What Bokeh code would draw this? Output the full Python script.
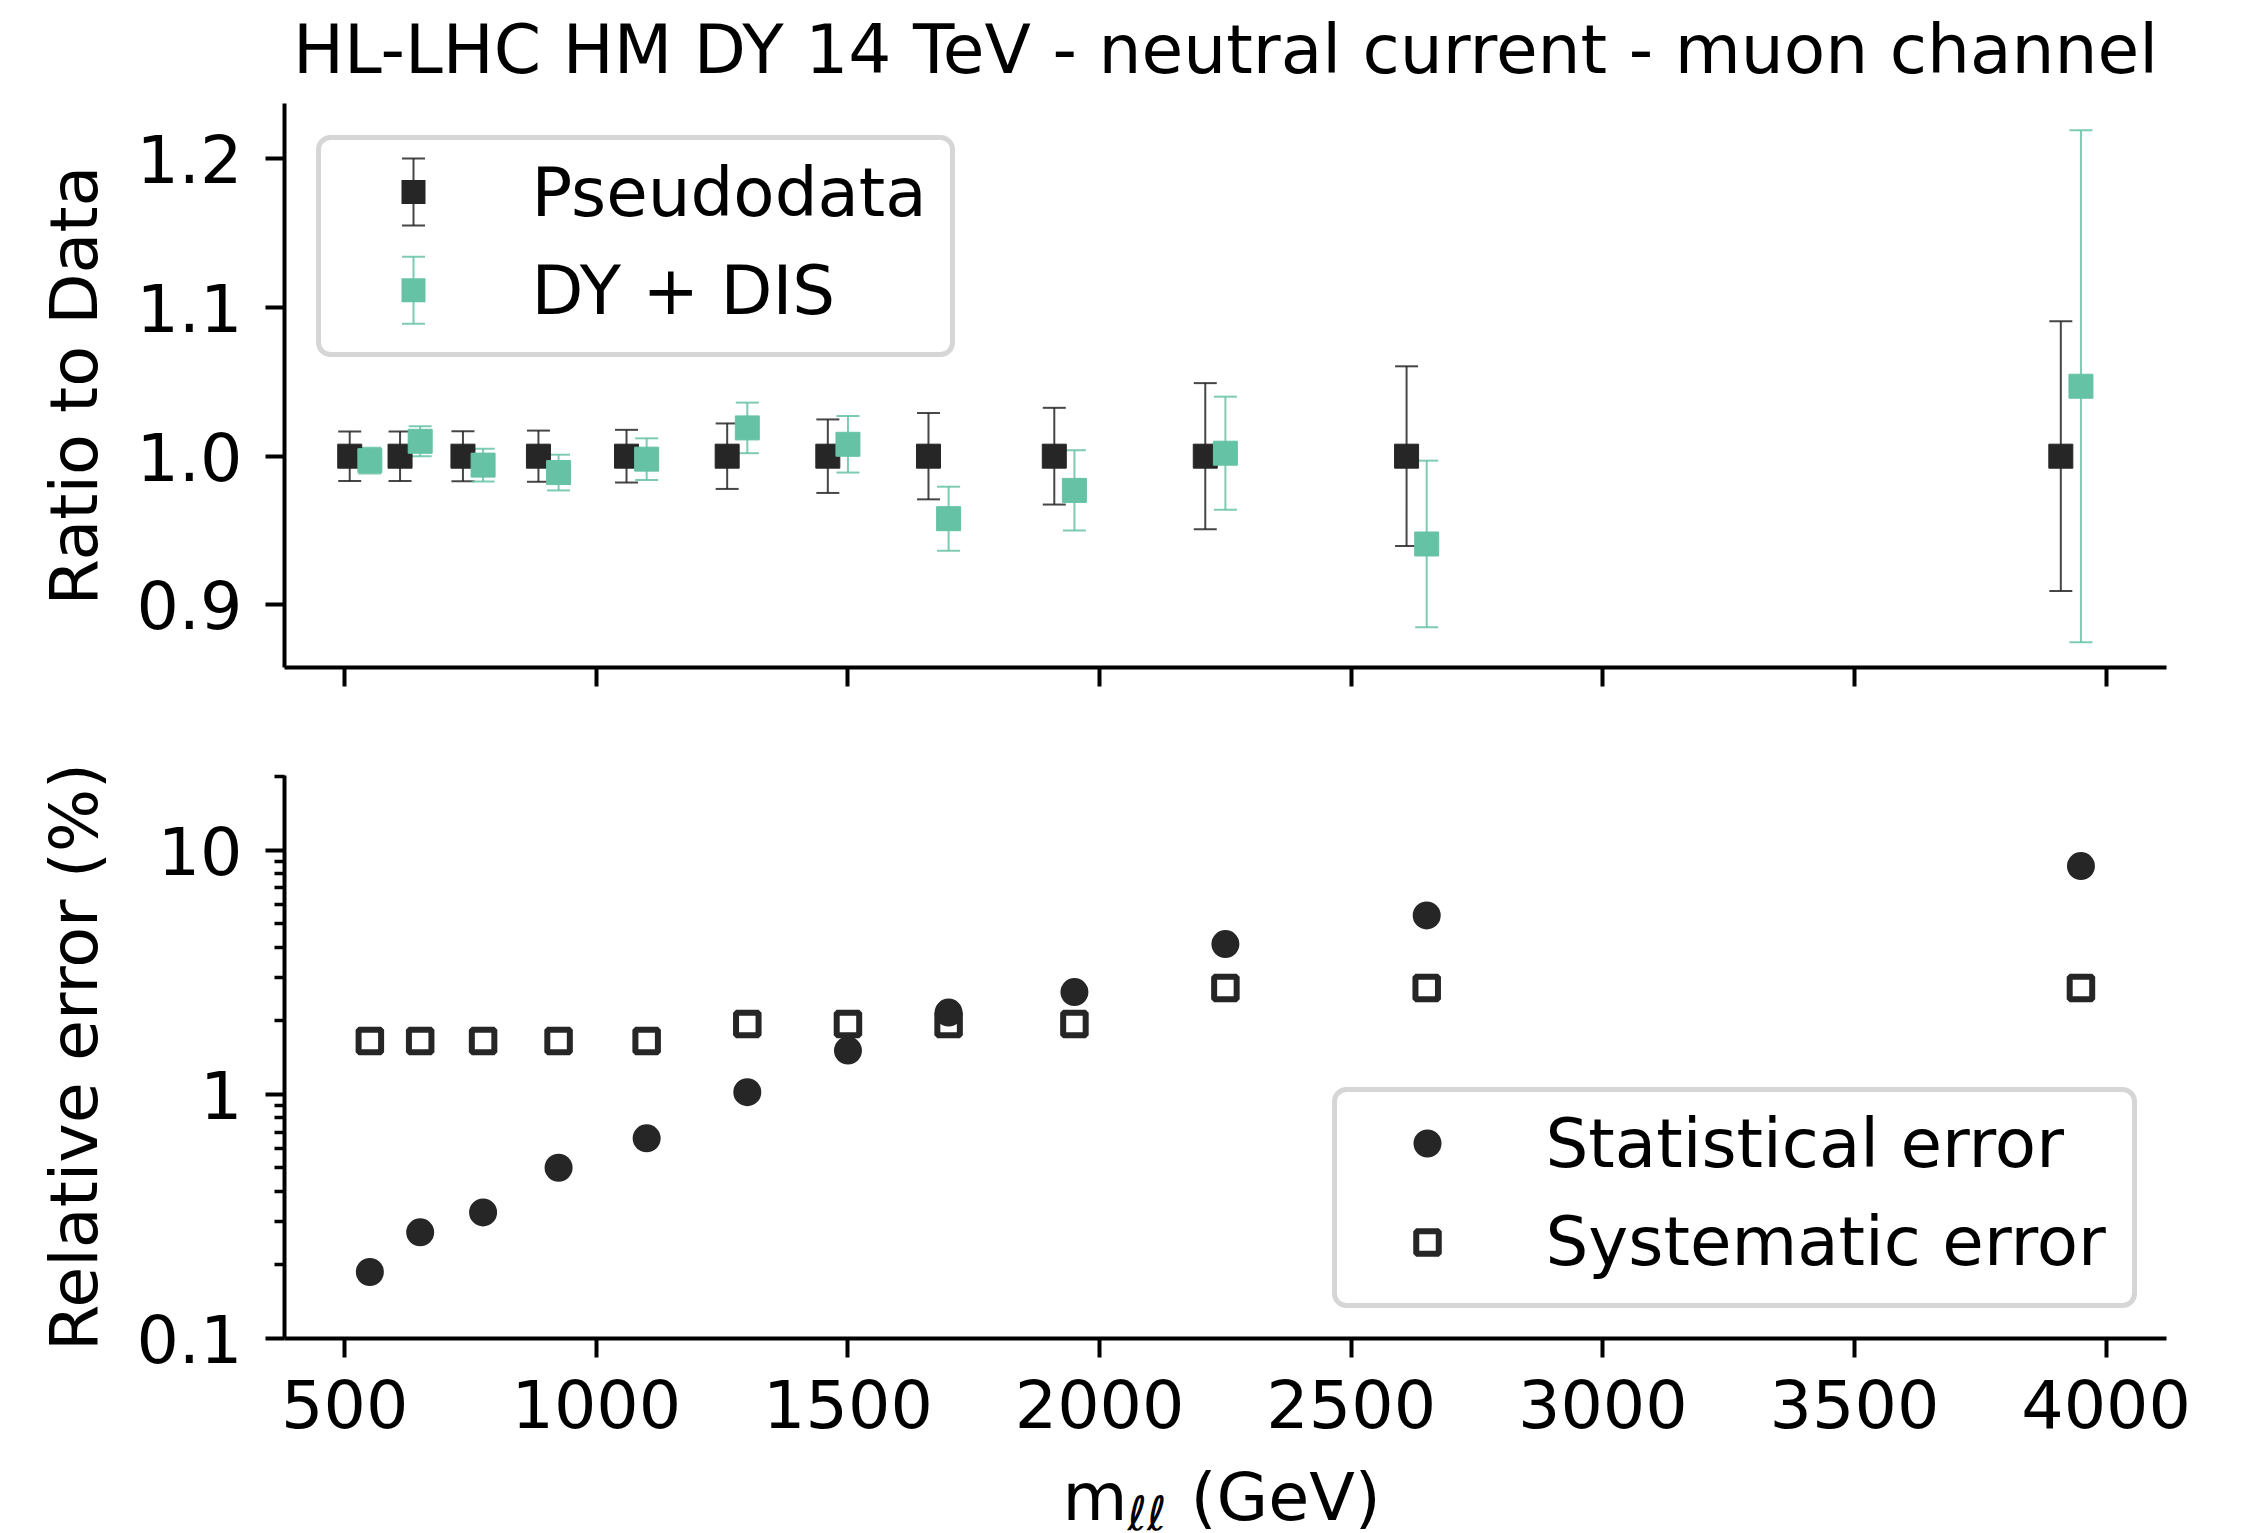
import numpy as np
from bokeh.plotting import figure
from bokeh.layouts import column
from bokeh.models import (ColumnDataSource, Range1d, FixedTicker, PrintfTickFormatter,
                          CustomJSTickFormatter, Whisker, TeeHead, Label, BoxAnnotation)
from bokeh.embed import file_html
from bokeh.resources import INLINE

# ---- data -----------------------------------------------------------------
# invariant-mass bins (GeV)
mll = [550, 650, 775, 925, 1100, 1300, 1500, 1700, 1950, 2250, 2650, 3950]

# ratio panel
pseudodata_ratio = [1.0, 1.0, 1.0, 1.0, 1.0, 1.0, 1.0, 1.0, 1.0, 1.0, 1.0, 1.0]
pseudodata_err = [0.0166, 0.0166, 0.0168, 0.0172, 0.0177, 0.0220,
                  0.0247, 0.0290, 0.0325, 0.0491, 0.0604, 0.0906]
dy_dis_ratio = [0.997, 1.010, 0.994, 0.989, 0.998, 1.019,
                1.008, 0.958, 0.977, 1.002, 0.941, 1.047]
dy_dis_err = [0.0086, 0.0101, 0.011, 0.012, 0.014, 0.017,
              0.019, 0.0215, 0.027, 0.038, 0.056, 0.172]

# relative-error panel (%)
stat_err = [0.187, 0.272, 0.328, 0.50, 0.66, 1.02, 1.51, 2.16, 2.62, 4.12, 5.4, 8.6]
sys_err = [1.65, 1.65, 1.65, 1.65, 1.65, 1.94, 1.94, 1.94, 1.94, 2.72, 2.72, 2.72]

x_ticks = [500, 1000, 1500, 2000, 2500, 3000, 3500, 4000]
ratio_ticks = [0.9, 1.0, 1.1, 1.2]
relerr_ticks = [0.1, 1, 10]
relerr_minor = [0.2, 0.3, 0.4, 0.5, 0.6, 0.7, 0.8, 0.9, 2, 3, 4, 5, 6, 7, 8, 9, 20]

title_text = "HL-LHC HM DY 14 TeV - neutral current - muon channel"

# ---- style ----------------------------------------------------------------
FONT = "DejaVu Sans"
FS = "66.7px"
FS_TXT = "67.5px"
INK = "#262626"
GREEN = "#66c2a5"
SHIFT = 40  # pseudodata drawn slightly to the left of each bin

W = 2249
X0, X1 = 380.4, 4120.0
LBL_DY = 23  # label anchor correction (px) for the alphabetic baseline


def style_axes(p):
    p.outline_line_color = None
    p.xgrid.visible = False
    p.ygrid.visible = False
    p.background_fill_color = "white"
    p.border_fill_color = "white"
    for ax in (p.xaxis[0], p.yaxis[0]):
        ax.axis_line_color = "black"
        ax.axis_line_width = 4
        ax.major_tick_line_color = "black"
        ax.major_tick_line_width = 4
        ax.major_tick_out = 19
        ax.major_tick_in = 0
        ax.minor_tick_line_color = None
        ax.major_label_text_font = FONT
        ax.major_label_text_font_size = FS
        ax.major_label_text_color = "black"
        ax.axis_label_text_font = FONT
        ax.axis_label_text_font_size = FS
        ax.axis_label_text_font_style = "normal"
        ax.axis_label_text_color = "black"
    p.yaxis[0].major_label_standoff = 23
    p.yaxis[0].axis_label_standoff = 20


def strip(height):
    s = figure(width=W, height=height, output_backend="svg", toolbar_location=None,
               x_range=Range1d(0, 1), y_range=Range1d(0, 1),
               x_axis_location=None, y_axis_location=None, min_border=0)
    s.outline_line_color = None
    s.grid.visible = False
    s.background_fill_color = "white"
    s.border_fill_color = "white"
    return s


def errorbars(p, x, lo, hi, color, units="data", level="underlay"):
    src = ColumnDataSource(dict(x=x, lo=lo, hi=hi))
    kw = dict(line_color=color, line_width=2, line_alpha=0.85)
    w = Whisker(source=src, base="x", lower="lo", upper="hi", dimension="height",
                upper_head=TeeHead(size=23, **kw), lower_head=TeeHead(size=23, **kw),
                level=level, **kw)
    if units == "screen":
        w.base_units = "screen"
        w.lower_units = "screen"
        w.upper_units = "screen"
    p.add_layout(w)


def box(p, l, r, b, t, **kw):
    p.add_layout(BoxAnnotation(left=l, right=r, bottom=b, top=t,
                               left_units="screen", right_units="screen",
                               bottom_units="screen", top_units="screen", **kw))


def text(p, x, y, s, size=FS_TXT, style="normal", dy=LBL_DY, align="left"):
    p.add_layout(Label(x=x, y=y + dy, x_units="screen", y_units="screen", text=s,
                       text_font=FONT, text_font_size=size, text_font_style=style,
                       text_color="black", text_align=align, text_baseline="alphabetic"))


# ---- title strip ----------------------------------------------------------
head = strip(95)
text(head, 941, 23, title_text, size="67.8px", align="center")

# ---- ratio panel ----------------------------------------------------------
top = figure(width=W, height=625, output_backend="svg", toolbar_location=None,
             x_range=Range1d(X0, X1), y_range=Range1d(0.858, 1.237),
             min_border_left=284, min_border_right=83, min_border_top=8,
             min_border_bottom=53)
style_axes(top)
top.xaxis.ticker = FixedTicker(ticks=x_ticks)
top.xaxis.formatter = CustomJSTickFormatter(code="return ''")
top.yaxis.ticker = FixedTicker(ticks=ratio_ticks)
top.yaxis.formatter = PrintfTickFormatter(format="%.1f")
top.yaxis.axis_label = "Ratio to Data"

x_arr = np.array(mll, dtype=float)
pr = np.array(pseudodata_ratio)
pe = np.array(pseudodata_err)
dr = np.array(dy_dis_ratio)
de = np.array(dy_dis_err)

errorbars(top, x_arr - SHIFT, pr - pe, pr + pe, INK)
errorbars(top, x_arr, dr - de, dr + de, GREEN)
top.scatter(x_arr - SHIFT, pr, marker="square", size=24, fill_color=INK, line_color=INK)
top.scatter(x_arr, dr, marker="square", size=24, fill_color=GREEN, line_color=GREEN)

# legend (frame-relative screen px)
box(top, 34, 668, 313, 530, fill_color="white", fill_alpha=0.8,
    line_color="#cccccc", line_alpha=0.8, line_width=5, border_radius=12)
errorbars(top, [129], [475.4 - 33.5], [475.4 + 33.5], INK, units="screen", level="annotation")
box(top, 117, 141, 463.4, 487.4, fill_color=INK, fill_alpha=1, line_color=None)
errorbars(top, [129], [377.3 - 33.5], [377.3 + 33.5], GREEN, units="screen", level="annotation")
box(top, 117, 141, 365.3, 389.3, fill_color=GREEN, fill_alpha=1, line_color=None)
text(top, 247, 452.5, "Pseudodata")
text(top, 247, 354, "DY + DIS")

# ---- relative-error panel -------------------------------------------------
bot = figure(width=W, height=740, output_backend="svg", toolbar_location=None,
             x_range=Range1d(X0, X1), y_range=Range1d(0.0999, 20.2), y_axis_type="log",
             min_border_left=284, min_border_right=83, min_border_top=55,
             min_border_bottom=122)
style_axes(bot)
bot.xaxis.ticker = FixedTicker(ticks=x_ticks)
bot.xaxis.major_label_standoff = 21
bot.yaxis.ticker = FixedTicker(ticks=relerr_ticks, minor_ticks=relerr_minor)
bot.yaxis.formatter = CustomJSTickFormatter(
    code="return tick >= 1 ? tick.toFixed(0) : tick.toFixed(1)")
bot.yaxis.minor_tick_line_color = "black"
bot.yaxis.minor_tick_line_width = 3.5
bot.yaxis.minor_tick_out = 10
bot.yaxis.minor_tick_in = 0
bot.yaxis.axis_label = "Relative error (%)"

bot.scatter(mll, stat_err, marker="circle", size=28, fill_color=INK, line_color=None)
bot.scatter(mll, sys_err, marker="square", size=22.5, fill_color=None,
            line_color=INK, line_width=6)

# legend
box(bot, 1050, 1850, 33, 249, fill_color="white", fill_alpha=0.8,
    line_color="#cccccc", line_alpha=0.8, line_width=5, border_radius=12)
box(bot, 1129, 1157, 181, 209, fill_color=INK, fill_alpha=1, line_color=None,
    border_radius=14)
box(bot, 1131.75, 1154.25, 84.75, 107.25, fill_color=None, fill_alpha=0,
    line_color=INK, line_alpha=1, line_width=6)
text(bot, 1261, 172, "Statistical error")
text(bot, 1261, 74, "Systematic error")

# ---- x-axis title strip (m with subscript ll) -----------------------------
xlab = strip(73)
text(xlab, 778, 14, "m", size=FS)
text(xlab, 843, 4, "\u2113\u2113", size="47px", style="italic", dy=16)
text(xlab, 906, 14, "(GeV)", size=FS)

layout = column(head, top, bot, xlab)
open("out.html", "w").write(file_html(layout, INLINE))
